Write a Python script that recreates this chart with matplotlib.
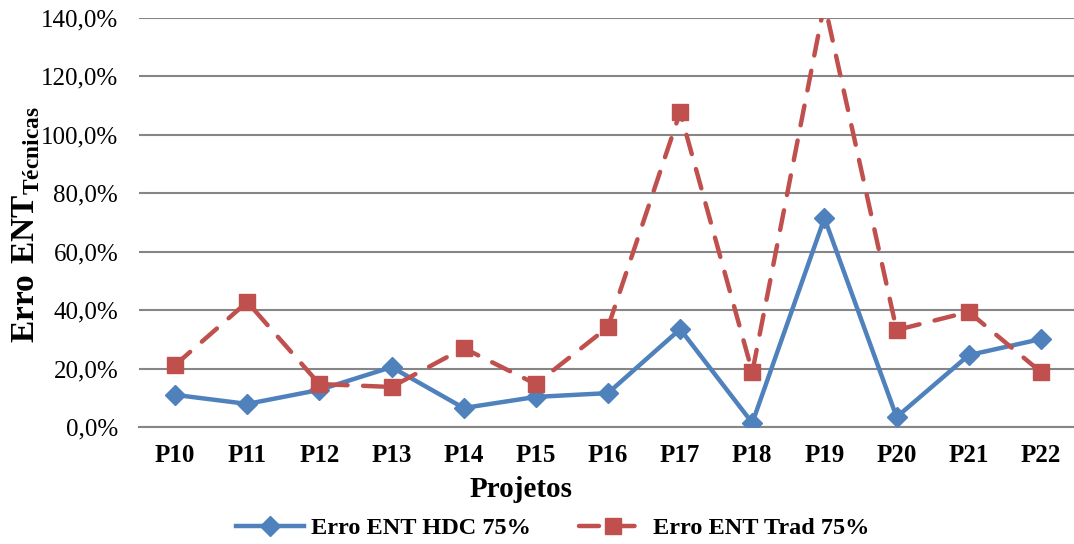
import matplotlib
matplotlib.use("Agg")
import matplotlib.pyplot as plt
import numpy as np
from matplotlib.ticker import FuncFormatter

# Dados
projetos = ["P10", "P11", "P12", "P13", "P14", "P15", "P16",
            "P17", "P18", "P19", "P20", "P21", "P22"]
erro_hdc = [11.0, 7.9, 12.7, 20.5, 6.5, 10.3, 11.6, 33.5, 1.4, 71.5, 3.4, 24.6, 30.1]
erro_trad = [21.2, 42.8, 14.7, 13.7, 27.0, 14.7, 34.2, 107.8, 18.8, 145.0, 33.2, 39.4, 18.8]
yticks = [0, 20, 40, 60, 80, 100, 120, 140]

plt.rcParams["font.family"] = ["Liberation Serif", "DejaVu Serif"]
plt.rcParams["mathtext.fontset"] = "custom"
plt.rcParams["mathtext.rm"] = "Liberation Serif"
plt.rcParams["mathtext.bf"] = "Liberation Serif:bold"

azul = "#4F81BD"
vermelho = "#C0504D"

fig = plt.figure(figsize=(10.74, 5.44), dpi=100)
ax = fig.add_axes([139 / 1074, 1 - 427 / 544, (1077 - 139) / 1074, (427 - 18) / 544])

x = np.arange(len(projetos))
ax.plot(x, erro_hdc, color=azul, linewidth=3.2, marker="D", markersize=10,
        label="Erro ENT HDC 75%", zorder=3)
ax.plot(x, erro_trad, color=vermelho, linewidth=3.2, marker="s", markersize=12,
        linestyle=(0, (4.5, 3.5)), dash_capstyle="round",
        label="Erro ENT Trad 75%", zorder=4)

ax.set_xlim(-0.5, len(projetos) - 0.5)
ax.set_ylim(0, 140)
ax.set_yticks(yticks)
ax.yaxis.set_major_formatter(FuncFormatter(lambda v, p: f"{v:.1f}%".replace(".", ",")))
ax.set_xticks(x)
ax.set_xticklabels(projetos, fontweight="bold")
ax.tick_params(axis="both", length=0, labelsize=18, colors="black")
ax.tick_params(axis="x", pad=12)
ax.tick_params(axis="y", pad=15)

ax.grid(axis="y", color="#868686", linewidth=1.5)
ax.set_axisbelow(True)
for s in ["top", "right", "left"]:
    ax.spines[s].set_visible(False)
ax.spines["bottom"].set_color("#868686")
ax.spines["bottom"].set_linewidth(1.5)

ax.set_xlabel("Projetos", fontsize=21, fontweight="bold")
ax.xaxis.set_label_coords((521 - 139) / 938, -0.154)
ax.xaxis.label.set_va("center")
ax.set_ylabel(r"$\mathbf{Erro\ ENT}_{\mathbf{Técnicas}}$", fontsize=24,
              ha="center", va="center")
ax.yaxis.set_label_coords(-(139 - 26) / 938, 1 - (225 - 18) / 409)

fig.legend(*ax.get_legend_handles_labels(), loc="center",
           bbox_to_anchor=(553 / 1074, 1 - 528 / 544), ncol=2, frameon=False,
           prop={"weight": "bold", "size": 17.5}, handlelength=2.8, columnspacing=2.0,
           handletextpad=0.25, borderpad=0, borderaxespad=0)

fig.savefig("out.png", dpi=100)
